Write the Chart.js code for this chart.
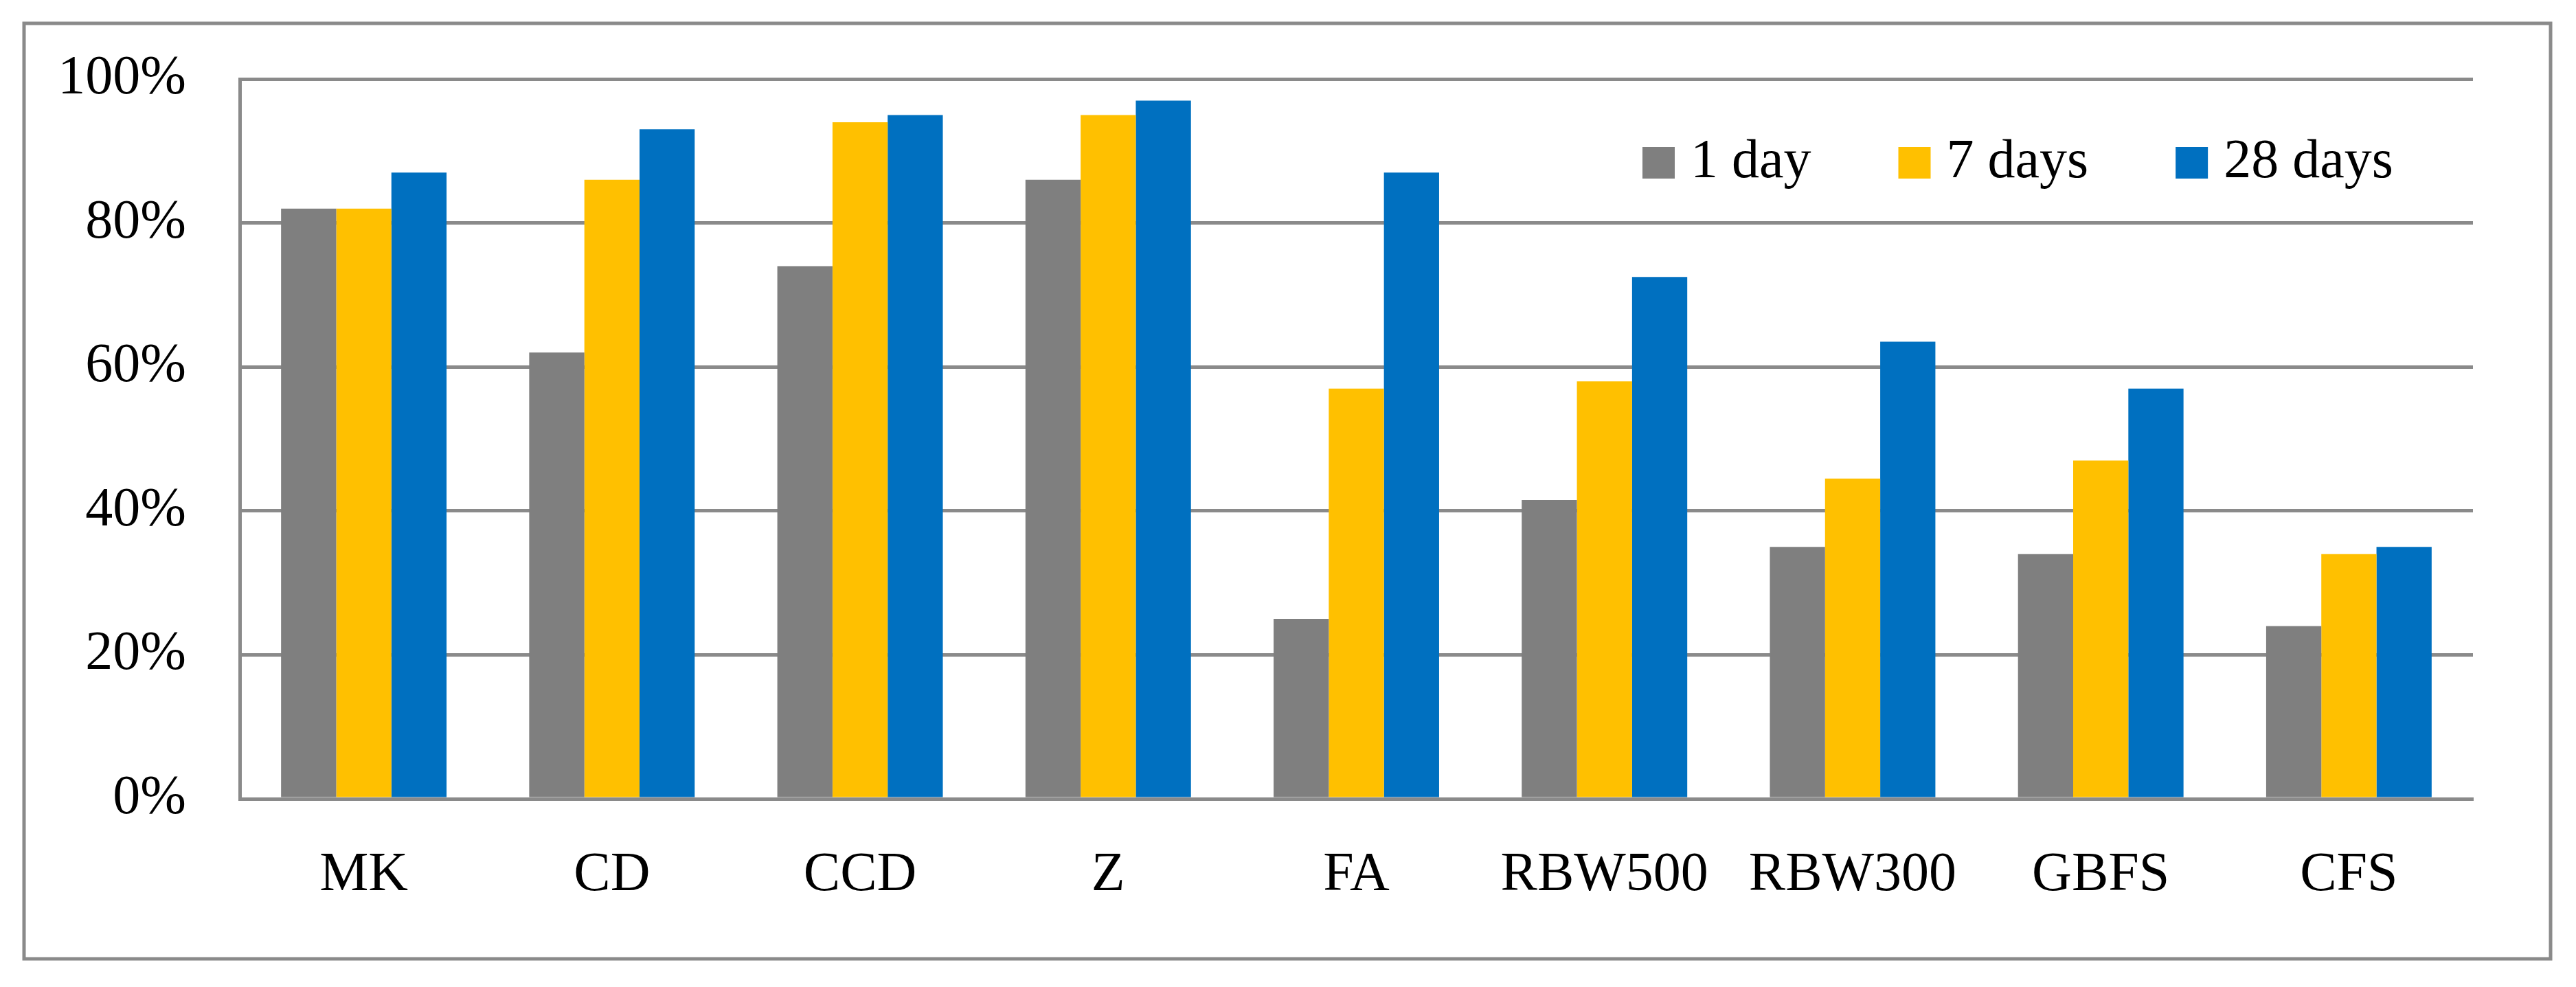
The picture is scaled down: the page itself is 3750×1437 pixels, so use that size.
<!DOCTYPE html>
<html>
<head>
<meta charset="utf-8">
<script src="https://cdn.jsdelivr.net/npm/chart.js@4/dist/chart.umd.min.js"></script>
<style>
  html, body { margin: 0; padding: 0; background: #fff; }
  canvas { display: block; }
</style>
</head>
<body>
<canvas id="myChart" width="3750" height="1437"></canvas>
<script>
/* ===== DATA ===== */
const categories = ['MK', 'CD', 'CCD', 'Z', 'FA', 'RBW500', 'RBW300', 'GBFS', 'CFS'];
const seriesNames = ['1 day', '7 days', '28 days'];
const day1 = [82, 62, 74, 86, 25, 41.5, 35, 34, 24];
const day7 = [82, 86, 94, 95, 57, 58, 44.5, 47, 34];
const day28 = [87, 93, 95, 97, 87, 72.5, 63.5, 57, 35];
const yTicks = [0, 20, 40, 60, 80, 100];

const colors = ['#7f7f7f', '#ffc000', '#0070c0'];
const lineGray = '#8a8a8a';
const font = 'Liberation Serif';

/* ===== OUTER FRAME ===== */
const framePlugin = {
    id: 'frame',
    beforeDraw(chart) {
        const ctx = chart.ctx;
        ctx.save();
        ctx.fillStyle = '#fff';
        ctx.fillRect(0, 0, chart.width, chart.height);
        ctx.strokeStyle = lineGray;
        ctx.lineWidth = 5;
        ctx.strokeRect(35, 34, 3678, 1362);
        ctx.restore();
    }
};

/* ===== LEGEND INSIDE PLOT ===== */
const insideLegend = {
    id: 'insideLegend',
    afterDraw(chart) {
        const ctx = chart.ctx;
        ctx.save();
        ctx.font = '80px "' + font + '"';
        ctx.textBaseline = 'alphabetic';
        let x = 2391;
        chart.data.datasets.forEach(ds => {
            ctx.fillStyle = ds.backgroundColor;
            ctx.fillRect(x, 214, 47, 46);
            ctx.fillStyle = '#000';
            ctx.fillText(ds.label, x + 70, 258);
            x += 70 + ctx.measureText(ds.label).width + 127;
        });
        ctx.restore();
    }
};

var myChart = document.getElementById('myChart').getContext('2d');

var barChart = new Chart(myChart, {
    type: 'bar',
    data: {
        labels: categories,
        datasets: [
            { label: seriesNames[0], data: day1, backgroundColor: colors[0] },
            { label: seriesNames[1], data: day7, backgroundColor: colors[1] },
            { label: seriesNames[2], data: day28, backgroundColor: colors[2] },
        ],
    },
    options: {
        responsive: false,
        devicePixelRatio: 1,
        animation: false,
        layout: {
            padding: { left: 0, right: 150, top: 115, bottom: 0 }
        },
        datasets: {
            bar: {
                categoryPercentage: 0.667,
                barPercentage: 1.0,
                borderWidth: 0,
            }
        },
        scales: {
            x: {
                grid: { display: false },
                border: { display: true, color: lineGray, width: 5 },
                ticks: {
                    color: '#000',
                    font: { family: font, size: 80 },
                    padding: 56,
                    maxRotation: 0,
                    autoSkip: false,
                },
                afterFit(axis) { axis.height = 274; }
            },
            y: {
                min: 0,
                max: 100,
                afterBuildTicks(axis) {
                    axis.ticks = yTicks.map(v => ({ value: v }));
                },
                grid: { color: lineGray, lineWidth: 5, drawTicks: false },
                border: { display: true, color: lineGray, width: 5 },
                ticks: {
                    color: '#000',
                    font: { family: font, size: 80 },
                    padding: 78,
                    callback: v => v + '%',
                },
                afterFit(axis) {
                    axis.width = 349;
                    axis.paddingTop = 0;
                    axis.paddingBottom = 0;
                }
            }
        },
        plugins: {
            legend: { display: false },
            tooltip: { enabled: false },
        }
    },
    plugins: [framePlugin, insideLegend]
});
</script>
</body>
</html>
